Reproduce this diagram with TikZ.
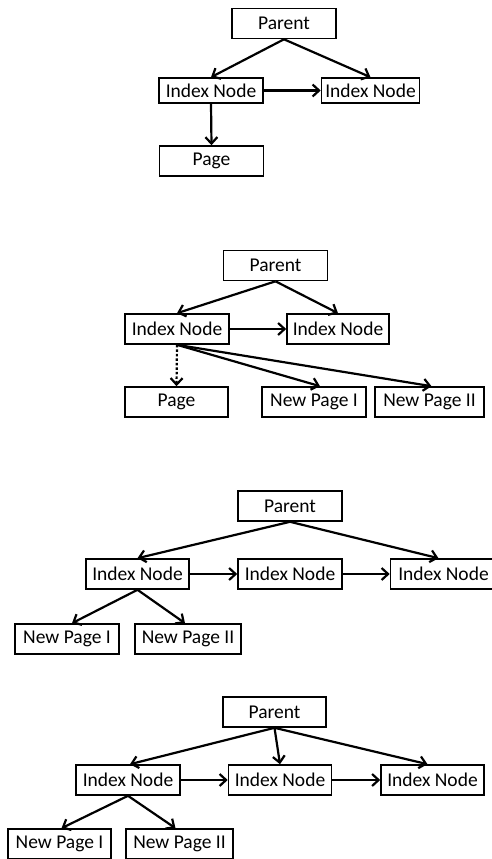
\documentclass[tikz,border=0pt]{standalone}
\usepackage{fontspec}
\setmainfont{Carlito}
\usetikzlibrary{arrows.meta,calc}
\tikzset{
  box/.style={draw, line width=1.6pt, rectangle, inner sep=0pt, minimum width=104pt, minimum height=30pt, font=\fontsize{19.5}{22}\selectfont},
  conn/.style={line width=2.2pt, -{Straight Barb[length=6.5pt,width=12pt,line width=2.2pt]}},
  dotconn/.style={conn, dash pattern=on 2.5pt off 2pt},
}
\begin{document}
\begin{tikzpicture}[x=1pt,y=-1pt]
\useasboundingbox (0,0) rectangle (491,859);
% panel 1
\node[box] (p1) at (284,23.5) {Parent};
\node[box, minimum height=25pt] (i1a) at (211,90.5) {Index Node};
\node[box, minimum height=25pt, minimum width=98pt] (i1b) at (370.5,90.5) {Index Node};
\node[box] (pg1) at (211.5,161) {Page};
\draw[conn] (p1.south) -- (i1a.north);
\draw[conn] (p1.south) -- (i1b.north);
\draw[conn] (i1a.east) -- (i1b.west);
\draw[conn] (i1a.south) -- (pg1.north);
% panel 2
\node[box] (p2) at (275.5,265.5) {Parent};
\node[box] (i2a) at (177,329) {Index Node};
\node[box, minimum width=102pt] (i2b) at (338,329) {Index Node};
\node[box, minimum width=103pt] (pg2) at (176.5,402) {Page};
\node[box] (np2a) at (314,402) {New Page I};
\node[box, minimum width=109pt] (np2b) at (429.5,402) {New Page II};
\draw[conn] (p2.south) -- (i2a.north);
\draw[conn] (p2.south) -- (i2b.north);
\draw[conn] (i2a.east) -- (i2b.west);
\draw[dotconn] (i2a.south) -- (pg2.north);
\draw[conn] (i2a.south) -- ($(np2a.north)+(6,0)$);
\draw[conn] (i2a.south) -- ($(np2b.north)+(2,0)$);
% panel 3
\node[box] (p3) at (290,506) {Parent};
\node[box, minimum width=103pt] (i3a) at (137.5,574) {Index Node};
\node[box] (i3b) at (290,574) {Index Node};
\node[box, minimum width=106pt] (i3c) at (443.5,574) {Index Node};
\node[box] (np3a) at (67,639) {New Page I};
\node[box, minimum width=106pt] (np3b) at (188,639) {New Page II};
\draw[conn] (p3.south) -- (i3a.north);
\draw[conn] (p3.south) -- ($(i3c.north)+(-5,0)$);
\draw[conn] (i3a.east) -- (i3b.west);
\draw[conn] (i3b.east) -- (i3c.west);
\draw[conn] (i3a.south) -- ($(np3a.north)+(5,0)$);
\draw[conn] (i3a.south) -- ($(np3b.north)+(-3,0)$);
% panel 4
\node[box, minimum width=103pt] (p4) at (274.5,712) {Parent};
\node[box] (i4a) at (128,780) {Index Node};
\node[box, minimum width=103pt] (i4b) at (280,780) {Index Node};
\node[box, minimum width=103pt] (i4c) at (432.5,780) {Index Node};
\node[box, minimum width=103pt] (np4a) at (59.5,844) {New Page I};
\node[box, minimum width=107pt] (np4b) at (179.5,844) {New Page II};
\draw[conn] (p4.south) -- ($(i4a.north)+(2,0)$);
\draw[conn] (p4.south) -- (i4b.north);
\draw[conn] (p4.south) -- ($(i4c.north)+(-5,0)$);
\draw[conn] (i4a.east) -- (i4b.west);
\draw[conn] (i4b.east) -- (i4c.west);
\draw[conn] (i4a.south) -- ($(np4a.north)+(2,0)$);
\draw[conn] (i4a.south) -- ($(np4b.north)+(-4,0)$);
\end{tikzpicture}
\end{document}
